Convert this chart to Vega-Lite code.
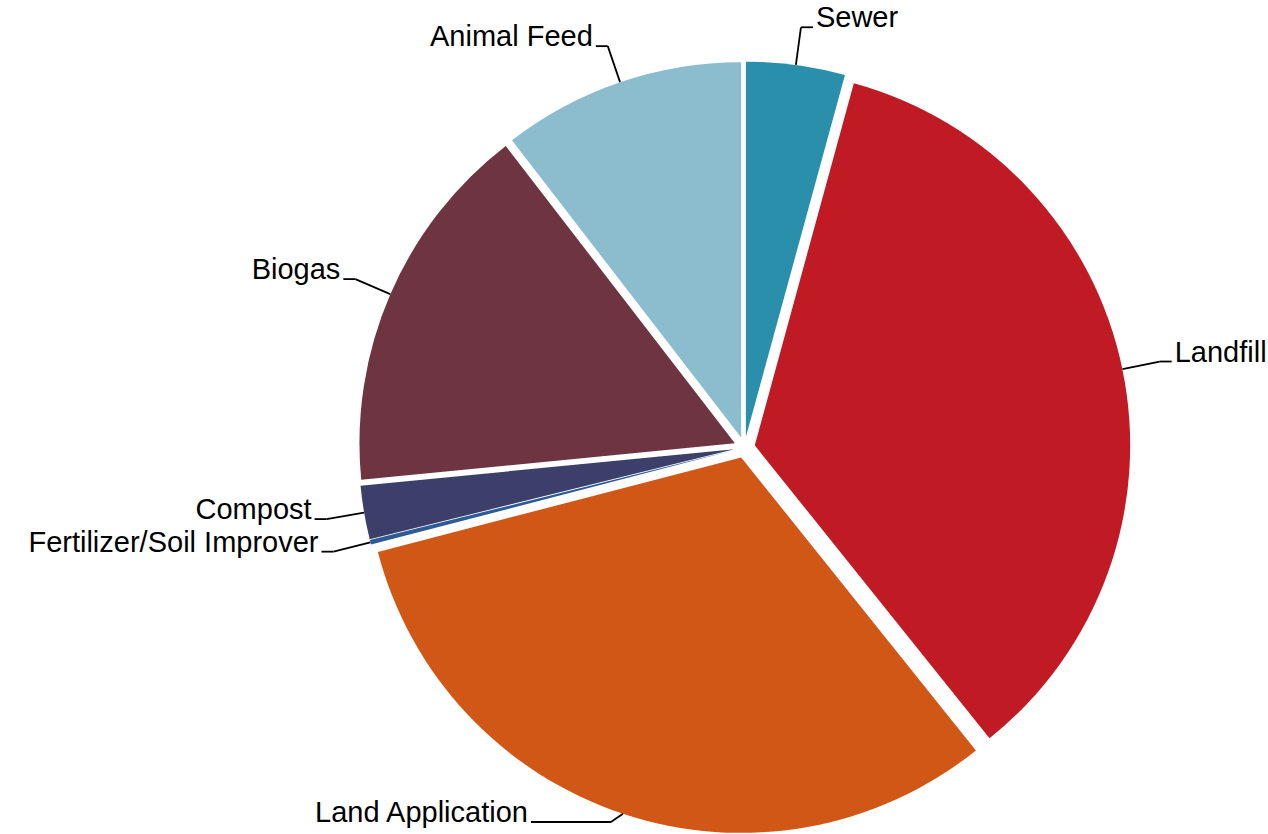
{
  "$schema": "https://vega.github.io/schema/vega-lite/v6.json",
  "width": 1268,
  "height": 834,
  "padding": 0,
  "autosize": "none",
  "background": "white",
  "config": {"view": {"stroke": null}},
  "data": {
    "values": [
      {"category": "Sewer", "share": 4.25},
      {"category": "Landfill", "share": 35.0},
      {"category": "Land Application", "share": 31.7},
      {"category": "Fertilizer/Soil Improver", "share": 0.2},
      {"category": "Compost", "share": 2.3},
      {"category": "Biogas", "share": 16.1},
      {"category": "Animal Feed", "share": 10.45}
    ]
  },
  "transform": [
    {"window": [{"op": "row_number", "as": "idx"}]},
    {"joinaggregate": [{"op": "sum", "field": "share", "as": "total"}]},
    {"window": [{"op": "sum", "field": "share", "as": "cum"}], "sort": [{"field": "idx"}], "frame": [null, 0]},
    {"calculate": "(datum.cum - datum.share) / datum.total", "as": "a0"},
    {"calculate": "datum.cum / datum.total", "as": "a1"},
    {"calculate": "(datum.a0 + datum.a1) * PI", "as": "mid"},
    {"calculate": "10.5 * sin(datum.mid)", "as": "ox"},
    {"calculate": "10.5 * cos(datum.mid)", "as": "oy"},
    {"calculate": "386 * sin(datum.mid)", "as": "sx"},
    {"calculate": "386 * cos(datum.mid)", "as": "sy"},
    {"calculate": "424 * sin(datum.mid)", "as": "ex"},
    {"calculate": "424 * cos(datum.mid) < -374.5", "as": "clamped"},
    {"calculate": "max(424 * cos(datum.mid), -374.5)", "as": "ey"},
    {"calculate": "sin(datum.mid) >= 0 ? 1 : -1", "as": "side"},
    {"calculate": "datum.ex + datum.side * (datum.clamped ? 80 : 12)", "as": "tx"},
    {"calculate": "datum.tx + datum.side * 3", "as": "lx"}
  ],
  "layer": [
    {
      "mark": {"type": "arc", "outerRadius": 375.4},
      "encoding": {
        "theta": {"field": "a0", "type": "quantitative", "scale": {"domain": [0, 1], "range": [0, 6.283185307179586]}},
        "theta2": {"field": "a1"},
        "x": {"field": "ox", "type": "quantitative", "scale": {"domain": [-744.5, 523.5], "nice": false, "zero": false}, "axis": null},
        "y": {"field": "oy", "type": "quantitative", "scale": {"domain": [-386.5, 447.5], "nice": false, "zero": false}, "axis": null},
        "color": {
          "field": "category",
          "type": "nominal",
          "legend": null,
          "scale": {
            "domain": ["Sewer", "Landfill", "Land Application", "Fertilizer/Soil Improver", "Compost", "Biogas", "Animal Feed"],
            "range": ["#2A8FAA", "#C01A24", "#D05716", "#2E5C92", "#3D3F6B", "#6E3442", "#8BBDCF"]
          }
        }
      }
    },
    {
      "mark": {"type": "rule", "color": "#000000", "strokeWidth": 1.8},
      "encoding": {
        "x": {"field": "sx", "type": "quantitative"},
        "y": {"field": "sy", "type": "quantitative"},
        "x2": {"field": "ex"},
        "y2": {"field": "ey"}
      }
    },
    {
      "mark": {"type": "rule", "color": "#000000", "strokeWidth": 1.8},
      "encoding": {
        "x": {"field": "ex", "type": "quantitative"},
        "y": {"field": "ey", "type": "quantitative"},
        "x2": {"field": "tx"},
        "y2": {"field": "ey"}
      }
    },
    {
      "transform": [{"filter": "datum.side > 0"}],
      "mark": {"type": "text", "align": "left", "baseline": "alphabetic", "font": "Liberation Sans", "fontSize": 29, "color": "#000000"},
      "encoding": {
        "x": {"field": "lx", "type": "quantitative"},
        "y": {"field": "ey", "type": "quantitative"},
        "text": {"field": "category"}
      }
    },
    {
      "transform": [{"filter": "datum.side < 0"}],
      "mark": {"type": "text", "align": "right", "baseline": "alphabetic", "font": "Liberation Sans", "fontSize": 29, "color": "#000000"},
      "encoding": {
        "x": {"field": "lx", "type": "quantitative"},
        "y": {"field": "ey", "type": "quantitative"},
        "text": {"field": "category"}
      }
    }
  ]
}
